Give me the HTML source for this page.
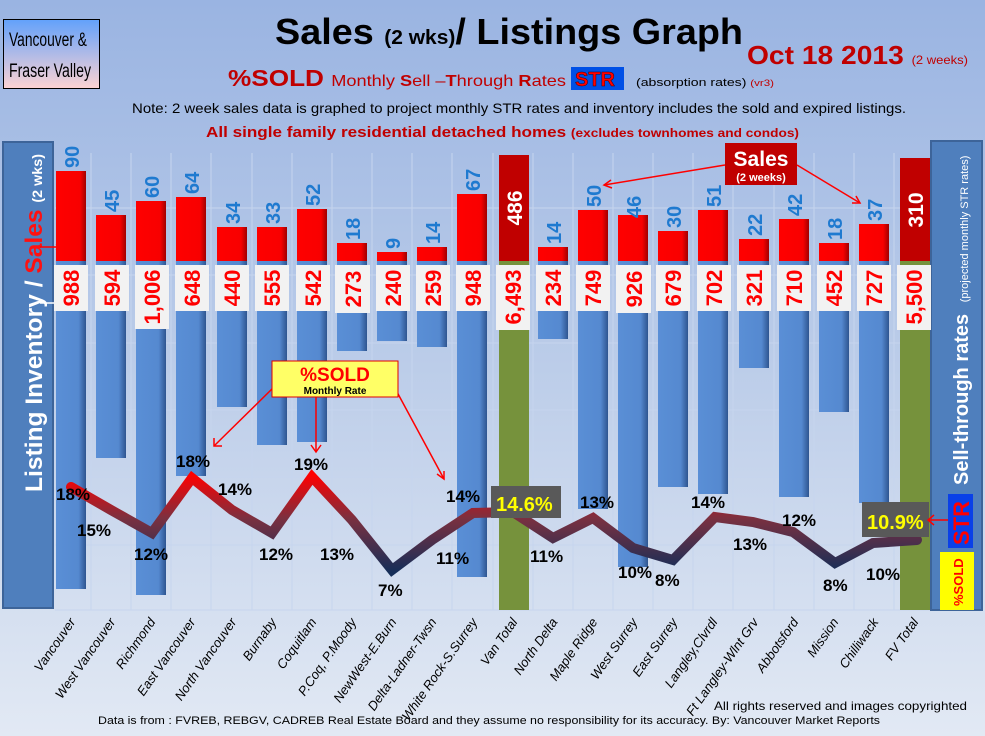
<!DOCTYPE html>
<html><head><meta charset="utf-8"><style>
html,body{margin:0;padding:0;width:985px;height:736px;overflow:hidden}
body{font-family:"Liberation Sans",sans-serif}
</style></head><body>
<svg width="985" height="736" viewBox="0 0 985 736" xmlns="http://www.w3.org/2000/svg" font-family="Liberation Sans, sans-serif">
<defs>
<linearGradient id="bg" x1="0" y1="0" x2="0" y2="1"><stop offset="0" stop-color="#9ab4e2"/><stop offset="0.5" stop-color="#bccde9"/><stop offset="1" stop-color="#e2e9f4"/></linearGradient>
<linearGradient id="hb" x1="0" y1="0" x2="0" y2="1"><stop offset="0" stop-color="#62a1fb"/><stop offset="1" stop-color="#fdd3d3"/></linearGradient>
<linearGradient id="bl" x1="0" y1="0" x2="1" y2="0"><stop offset="0" stop-color="#5a8fd6"/><stop offset="0.75" stop-color="#5589d0"/><stop offset="1" stop-color="#2e5590"/></linearGradient>
<linearGradient id="rd" x1="0" y1="0" x2="1" y2="0"><stop offset="0" stop-color="#ff0000"/><stop offset="0.8" stop-color="#f80000"/><stop offset="1" stop-color="#a00000"/></linearGradient>
<linearGradient id="ln" gradientUnits="userSpaceOnUse" x1="0" y1="475" x2="0" y2="572"><stop offset="0" stop-color="#ff0000"/><stop offset="0.45" stop-color="#7a3040"/><stop offset="1" stop-color="#152e58"/></linearGradient>
</defs>
<rect width="985" height="736" fill="url(#bg)"/>
<g stroke="#c6d5ee" stroke-width="1">
<line x1="55" y1="208" x2="930" y2="208"/><line x1="55" y1="275" x2="930" y2="275"/><line x1="55" y1="343" x2="930" y2="343"/><line x1="55" y1="410" x2="930" y2="410"/><line x1="55" y1="477" x2="930" y2="477"/><line x1="55" y1="545" x2="930" y2="545"/><line x1="55" y1="610" x2="930" y2="610"/>
<line x1="91" y1="153" x2="91" y2="610"/><line x1="131" y1="153" x2="131" y2="610"/><line x1="171" y1="153" x2="171" y2="610"/><line x1="211" y1="153" x2="211" y2="610"/><line x1="252" y1="153" x2="252" y2="610"/><line x1="292" y1="153" x2="292" y2="610"/><line x1="332" y1="153" x2="332" y2="610"/><line x1="372" y1="153" x2="372" y2="610"/><line x1="412" y1="153" x2="412" y2="610"/><line x1="452" y1="153" x2="452" y2="610"/><line x1="493" y1="153" x2="493" y2="610"/><line x1="533" y1="153" x2="533" y2="610"/><line x1="573" y1="153" x2="573" y2="610"/><line x1="613" y1="153" x2="613" y2="610"/><line x1="653" y1="153" x2="653" y2="610"/><line x1="693" y1="153" x2="693" y2="610"/><line x1="733" y1="153" x2="733" y2="610"/><line x1="774" y1="153" x2="774" y2="610"/><line x1="814" y1="153" x2="814" y2="610"/><line x1="854" y1="153" x2="854" y2="610"/><line x1="894" y1="153" x2="894" y2="610"/>
</g>
<rect x="3.5" y="19.5" width="96" height="69" fill="url(#hb)" stroke="#000"/>
<text x="9" y="46" font-size="19" fill="#000" textLength="78" lengthAdjust="spacingAndGlyphs">Vancouver &amp;</text>
<text x="9" y="77" font-size="19" fill="#000" textLength="82" lengthAdjust="spacingAndGlyphs">Fraser Valley</text>
<text x="275" y="44" font-size="36" font-weight="bold" fill="#000" textLength="468" lengthAdjust="spacingAndGlyphs">Sales <tspan font-size="20">(2 wks)</tspan>/ Listings Graph</text>
<text x="747" y="64" font-size="26" font-weight="bold" fill="#c00000" textLength="221" lengthAdjust="spacingAndGlyphs">Oct 18 2013 <tspan font-size="12" font-weight="normal">(2 weeks)</tspan></text>
<text x="228" y="86" font-size="23" font-weight="bold" fill="#c00000" textLength="338" lengthAdjust="spacingAndGlyphs">%SOLD <tspan font-size="16" font-weight="normal">Monthly <tspan font-weight="bold">S</tspan>ell –<tspan font-weight="bold">T</tspan>hrough <tspan font-weight="bold">R</tspan>ates</tspan></text>
<rect x="571" y="67" width="53" height="23" fill="#0050e6"/>
<text x="575" y="86" font-size="20" font-weight="bold" fill="#ff0000" stroke="#400" stroke-width="0.5">STR</text>
<text x="636" y="86" font-size="11" fill="#000" textLength="138" lengthAdjust="spacingAndGlyphs">(absorption rates) <tspan fill="#c00000" font-size="9">(vr3)</tspan></text>
<text x="132" y="113" font-size="14" fill="#000" textLength="774" lengthAdjust="spacingAndGlyphs">Note: 2 week sales data is graphed to project monthly STR rates and inventory includes the sold and expired listings.</text>
<text x="206" y="137" font-size="15" font-weight="bold" fill="#c00000" textLength="593" lengthAdjust="spacingAndGlyphs">All single family residential detached homes <tspan font-size="12">(excludes townhomes and condos)</tspan></text>
<rect x="3" y="142" width="50" height="466" fill="#4f7fbd" stroke="#3d6499" stroke-width="2"/>
<text transform="translate(42,492) rotate(-90)" font-size="24" font-weight="bold" fill="#fff" textLength="338" lengthAdjust="spacingAndGlyphs">Listing Inventory / <tspan fill="#ff1010">Sales</tspan> <tspan font-size="14">(2  wks)</tspan></text>
<line x1="40" y1="247" x2="60" y2="247" stroke="#f00" stroke-width="1.5"/><path d="M56,244 L63,247 L56,250" fill="none" stroke="#f00" stroke-width="1.5"/>
<line x1="40" y1="303" x2="60" y2="303" stroke="#fff" stroke-width="1.5"/><path d="M56,300 L63,303 L56,306" fill="none" stroke="#fff" stroke-width="1.5"/>
<rect x="931" y="141" width="51" height="469" fill="#4f7fbd" stroke="#3d6499" stroke-width="2"/>
<text transform="translate(968,485) rotate(-90)" font-size="20" font-weight="bold" fill="#fff">Sell-through rates <tspan font-size="11" font-weight="normal" dx="6">(projected monthly STR rates)</tspan></text>
<rect x="948" y="494" width="25" height="54" fill="#0a40e8"/>
<text transform="translate(969,545) rotate(-90)" font-size="22" font-weight="bold" fill="#ff0000">STR</text>
<rect x="940" y="552" width="34" height="58" fill="#ffff00"/>
<text transform="translate(963,606) rotate(-90)" font-size="13" font-weight="bold" fill="#ff0000">%SOLD</text>
<g fill="url(#bl)">
<rect x="56" y="261" width="30" height="328"/><rect x="96" y="261" width="30" height="197"/><rect x="136" y="261" width="30" height="334"/><rect x="176" y="261" width="30" height="215"/><rect x="217" y="261" width="30" height="146"/><rect x="257" y="261" width="30" height="184"/><rect x="297" y="261" width="30" height="181"/><rect x="337" y="261" width="30" height="90"/><rect x="377" y="261" width="30" height="80"/><rect x="417" y="261" width="30" height="86"/><rect x="457" y="261" width="30" height="316"/>
<rect x="538" y="261" width="30" height="78"/><rect x="578" y="261" width="30" height="248"/><rect x="618" y="261" width="30" height="306"/><rect x="658" y="261" width="30" height="226"/><rect x="698" y="261" width="30" height="233"/><rect x="739" y="261" width="30" height="107"/><rect x="779" y="261" width="30" height="236"/><rect x="819" y="261" width="30" height="151"/><rect x="859" y="261" width="30" height="242"/>
</g>
<rect x="499" y="261" width="30" height="349" fill="#76923c"/>
<rect x="900" y="261" width="30" height="349" fill="#76923c"/>
<g fill="url(#rd)">
<rect x="56" y="171" width="30" height="90"/><rect x="96" y="215" width="30" height="46"/><rect x="136" y="201" width="30" height="60"/><rect x="176" y="197" width="30" height="64"/><rect x="217" y="227" width="30" height="34"/><rect x="257" y="227" width="30" height="34"/><rect x="297" y="209" width="30" height="52"/><rect x="337" y="243" width="30" height="18"/><rect x="377" y="252" width="30" height="9"/><rect x="417" y="247" width="30" height="14"/><rect x="457" y="194" width="30" height="67"/>
<rect x="538" y="247" width="30" height="14"/><rect x="578" y="210" width="30" height="51"/><rect x="618" y="215" width="30" height="46"/><rect x="658" y="231" width="30" height="30"/><rect x="698" y="210" width="30" height="51"/><rect x="739" y="239" width="30" height="22"/><rect x="779" y="219" width="30" height="42"/><rect x="819" y="243" width="30" height="18"/><rect x="859" y="224" width="30" height="37"/>
</g>
<rect x="499" y="155" width="30" height="106" fill="#c00000"/>
<rect x="900" y="158" width="30" height="103" fill="#c00000"/>
<g font-size="21" font-weight="bold" fill="#fff">
<text transform="translate(522,208) rotate(-90)" text-anchor="middle">486</text>
<text transform="translate(923,210) rotate(-90)" text-anchor="middle">310</text>
</g>
<g font-size="20" font-weight="bold" fill="#1f7ad0">
<text transform="translate(79,168) rotate(-90)">90</text><text transform="translate(119,212) rotate(-90)">45</text><text transform="translate(159,198) rotate(-90)">60</text><text transform="translate(199,194) rotate(-90)">64</text><text transform="translate(240,224) rotate(-90)">34</text><text transform="translate(280,224) rotate(-90)">33</text><text transform="translate(320,206) rotate(-90)">52</text><text transform="translate(360,240) rotate(-90)">18</text><text transform="translate(400,249) rotate(-90)">9</text><text transform="translate(440,244) rotate(-90)">14</text><text transform="translate(480,191) rotate(-90)">67</text>
<text transform="translate(561,244) rotate(-90)">14</text><text transform="translate(601,207) rotate(-90)">50</text><text transform="translate(641,218) rotate(-90)">46</text><text transform="translate(681,228) rotate(-90)">30</text><text transform="translate(721,207) rotate(-90)">51</text><text transform="translate(762,236) rotate(-90)">22</text><text transform="translate(802,216) rotate(-90)">42</text><text transform="translate(842,240) rotate(-90)">18</text><text transform="translate(882,221) rotate(-90)">37</text>
</g>
<g fill="#f2f2f2">
<rect x="54" y="265" width="34" height="46"/><rect x="95" y="265" width="34" height="46"/><rect x="135" y="265" width="34" height="64"/><rect x="175" y="265" width="34" height="46"/><rect x="215" y="265" width="34" height="46"/><rect x="255" y="265" width="34" height="46"/><rect x="296" y="265" width="34" height="46"/><rect x="335" y="265" width="35" height="48"/><rect x="376" y="265" width="34" height="46"/><rect x="416" y="265" width="34" height="46"/><rect x="456" y="265" width="34" height="46"/><rect x="496" y="265" width="34" height="65"/>
<rect x="536" y="265" width="34" height="46"/><rect x="576" y="265" width="34" height="46"/><rect x="616" y="265" width="35" height="48"/><rect x="656" y="265" width="34" height="46"/><rect x="697" y="265" width="34" height="46"/><rect x="737" y="265" width="34" height="46"/><rect x="777" y="265" width="34" height="46"/><rect x="817" y="265" width="34" height="46"/><rect x="857" y="265" width="34" height="46"/><rect x="897" y="265" width="34" height="65"/>
</g>
<g font-size="22" font-weight="bold" fill="#ff0000" text-anchor="middle">
<text transform="translate(79,288) rotate(-90)">988</text><text transform="translate(120,288) rotate(-90)">594</text><text transform="translate(160,297) rotate(-90)">1,006</text><text transform="translate(200,288) rotate(-90)">648</text><text transform="translate(240,288) rotate(-90)">440</text><text transform="translate(280,288) rotate(-90)">555</text><text transform="translate(321,288) rotate(-90)">542</text><text transform="translate(361,289) rotate(-90)">273</text><text transform="translate(401,288) rotate(-90)">240</text><text transform="translate(441,288) rotate(-90)">259</text><text transform="translate(481,288) rotate(-90)">948</text><text transform="translate(521,297) rotate(-90)">6,493</text>
<text transform="translate(561,288) rotate(-90)">234</text><text transform="translate(601,288) rotate(-90)">749</text><text transform="translate(642,289) rotate(-90)">926</text><text transform="translate(681,288) rotate(-90)">679</text><text transform="translate(722,288) rotate(-90)">702</text><text transform="translate(762,288) rotate(-90)">321</text><text transform="translate(802,288) rotate(-90)">710</text><text transform="translate(842,288) rotate(-90)">452</text><text transform="translate(882,288) rotate(-90)">727</text><text transform="translate(922,297) rotate(-90)">5,500</text>
</g>
<polyline points="71,487 111,510 152,533 192,478 232,510 272,533 312,477 352,520 392,570 432,540 473,513 513,512 553,538 593,518 633,548 673,560 715,517 753,522 793,532 835,563 873,543 917,540" fill="none" stroke="url(#ln)" stroke-width="10" stroke-linejoin="miter" stroke-linecap="round"/>
<g font-size="17" font-weight="bold" fill="#000">
<text x="56" y="500">18%</text><text x="77" y="536">15%</text><text x="134" y="560">12%</text><text x="176" y="467">18%</text><text x="218" y="495">14%</text><text x="259" y="560">12%</text><text x="294" y="470">19%</text><text x="320" y="560">13%</text><text x="378" y="596">7%</text><text x="436" y="564">11%</text><text x="446" y="502">14%</text>
<text x="530" y="562">11%</text><text x="580" y="508">13%</text><text x="618" y="578">10%</text><text x="655" y="586">8%</text><text x="691" y="508">14%</text><text x="733" y="550">13%</text><text x="782" y="526">12%</text><text x="823" y="591">8%</text><text x="866" y="580">10%</text>
</g>
<rect x="491" y="486" width="70" height="32" fill="#595959"/>
<text x="496" y="511" font-size="20" font-weight="bold" fill="#ffff00">14.6%</text>
<rect x="862" y="502" width="67" height="35" fill="#595959"/>
<text x="867" y="529" font-size="20" font-weight="bold" fill="#ffff00">10.9%</text>
<g stroke="#ff0000" stroke-width="1.5" fill="none">
<line x1="275" y1="386" x2="214" y2="446"/><path d="M214,438 L214,446 L222,446"/>
<line x1="316" y1="397" x2="316" y2="452"/><path d="M311,445 L316,452 L321,445"/>
<line x1="397" y1="392" x2="444" y2="479"/><path d="M437,474 L444,479 L444,471"/>
<line x1="725" y1="165" x2="604" y2="185"/><path d="M611,180 L604,185 L612,188"/>
<line x1="797" y1="165" x2="860" y2="203"/><path d="M852,203 L860,203 L856,196"/>
<line x1="948" y1="520" x2="928" y2="520"/><path d="M934,515 L928,520 L934,525"/>
</g>
<rect x="272" y="361" width="126" height="36" fill="#ffff66" stroke="#e00000"/>
<text x="335" y="381" font-size="19" font-weight="bold" fill="#ff0000" text-anchor="middle">%SOLD</text>
<text x="335" y="394" font-size="10" font-weight="bold" fill="#000" text-anchor="middle">Monthly Rate</text>
<rect x="725" y="143" width="72" height="42" fill="#c00000"/>
<text x="761" y="166" font-size="21" font-weight="bold" fill="#fff" text-anchor="middle">Sales</text>
<text x="761" y="181" font-size="11" font-weight="bold" fill="#fff" text-anchor="middle">(2 weeks)</text>
<g font-size="13" font-style="italic" fill="#000" text-anchor="end">
<text transform="translate(76,622) rotate(-55)">Vancouver</text><text transform="translate(116,622) rotate(-55)">West Vancouver</text><text transform="translate(156,622) rotate(-55)">Richmond</text><text transform="translate(196,622) rotate(-55)">East Vancouver</text><text transform="translate(237,622) rotate(-55)">North Vancouver</text><text transform="translate(277,622) rotate(-55)">Burnaby</text><text transform="translate(317,622) rotate(-55)">Coquitlam</text><text transform="translate(357,622) rotate(-55)">P.Coq, P.Moody</text><text transform="translate(397,622) rotate(-55)">NewWest-E.Burn</text><text transform="translate(437,622) rotate(-55)">Delta-Ladner-Twsn</text><text transform="translate(478,622) rotate(-55)">White Rock-S.Surrey</text><text transform="translate(518,622) rotate(-55)">Van Total</text>
<text transform="translate(558,622) rotate(-55)">North Delta</text><text transform="translate(598,622) rotate(-55)">Maple Ridge</text><text transform="translate(638,622) rotate(-55)">West Surrey</text><text transform="translate(678,622) rotate(-55)">East Surrey</text><text transform="translate(718,622) rotate(-55)">Langley,Clvrdl</text><text transform="translate(759,622) rotate(-55)">Ft Langley-Wlnt Grv</text><text transform="translate(799,622) rotate(-55)">Abbotsford</text><text transform="translate(839,622) rotate(-55)">Mission</text><text transform="translate(879,622) rotate(-55)">Chilliwack</text><text transform="translate(919,622) rotate(-55)">FV Total</text>
</g>
<text x="714" y="710" font-size="12" fill="#000" textLength="253" lengthAdjust="spacingAndGlyphs">All rights reserved and  images copyrighted</text>
<text x="98" y="724" font-size="11" fill="#000" textLength="782" lengthAdjust="spacingAndGlyphs">Data is from : FVREB, REBGV, CADREB Real Estate Board and they assume no responsibility for its accuracy. By: Vancouver Market Reports</text>
</svg>
</body></html>
